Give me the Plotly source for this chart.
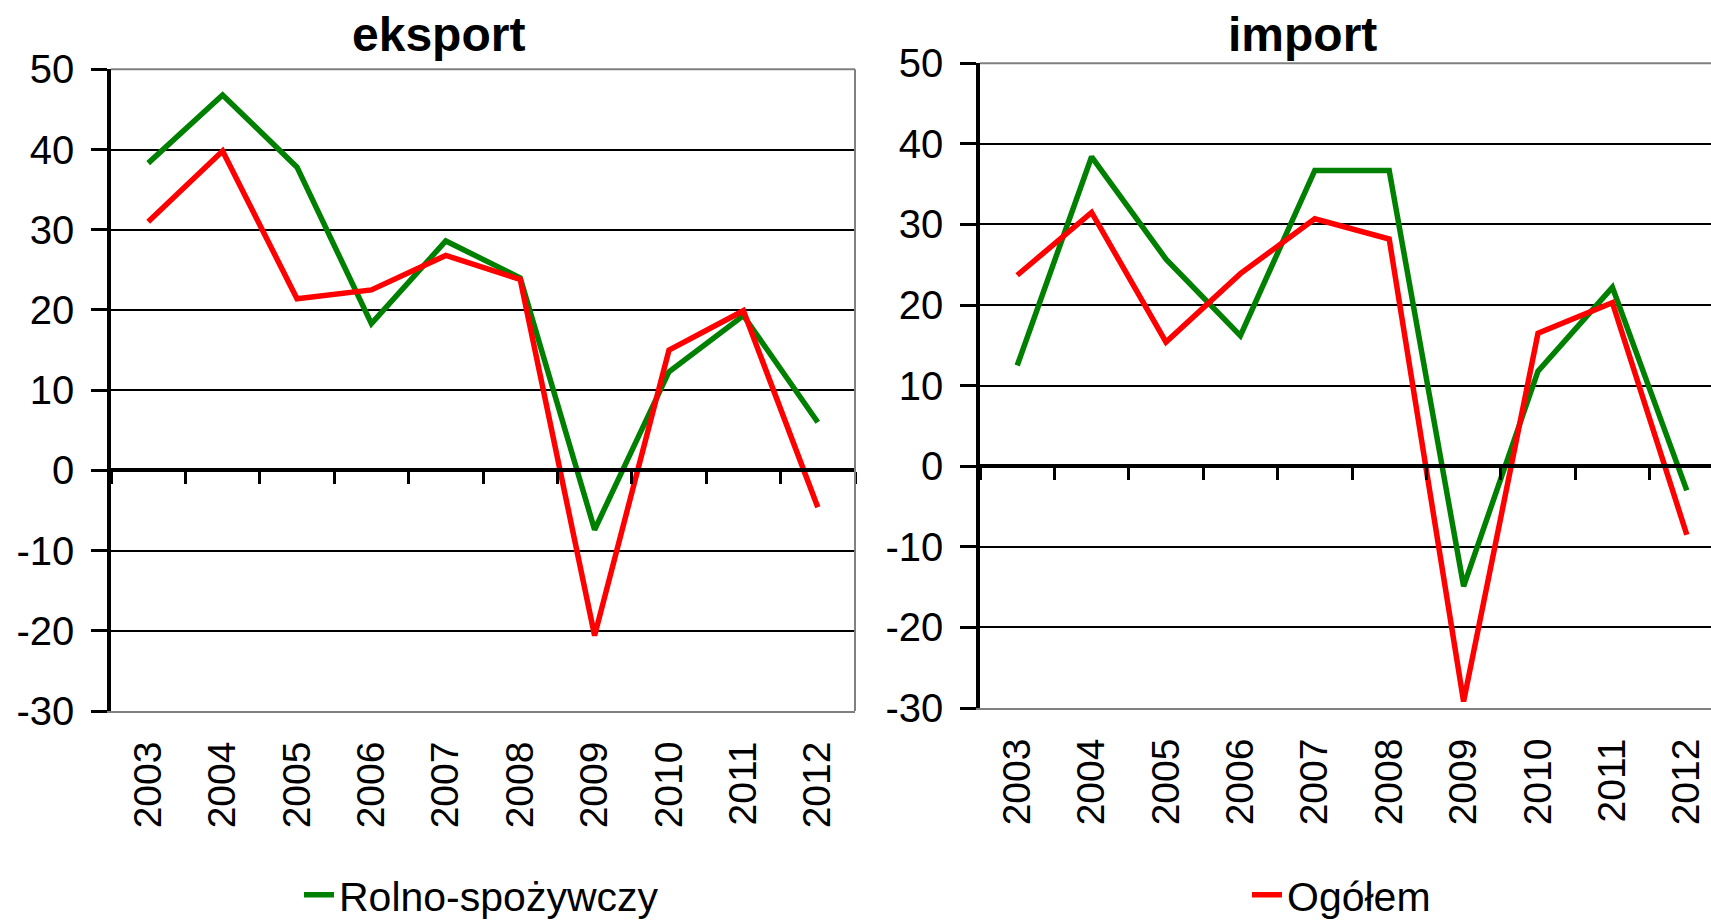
import plotly.graph_objects as go

# dane (dynamika r/r, %)
years = ['2003', '2004', '2005', '2006', '2007', '2008', '2009', '2010', '2011', '2012']
eksport_rolno = [38.3, 46.8, 37.8, 18.3, 28.6, 24.0, -7.4, 12.3, 19.3, 6.0]
eksport_ogolem = [31.0, 39.8, 21.4, 22.5, 26.8, 23.8, -20.6, 15.0, 19.9, -4.6]
import_rolno = [12.5, 38.4, 25.7, 16.2, 36.7, 36.7, -14.9, 11.8, 22.2, -3.0]
import_ogolem = [23.7, 31.5, 15.4, 23.9, 30.7, 28.2, -29.2, 16.5, 20.3, -8.5]
y_ticks = [-30, -20, -10, 0, 10, 20, 30, 40, 50]
y_labels = ['-30', '-20', '-10', '0', '10', '20', '30', '40', '50']

W, H = 1711, 922
FONT = 'Liberation Sans, Arial, sans-serif'
GREEN = 'rgb(0,128,0)'
RED = 'rgb(255,0,0)'
GRAY = 'rgb(128,128,128)'
BAND = 74.4  # szerokosc kategorii w px

xs = list(range(len(years)))
bounds = [i - 0.5 for i in range(len(years) + 1)]


def fx(p):
    return p / W


def fy(p):
    return 1 - p / H


panels = [
    dict(title='eksport', rolno=eksport_rolno, ogolem=eksport_ogolem,
         left=111, right=855, top=69.3, bottom=711, title_x=438, title_y=35,
         legend='legend', show='rolno', border_right=True),
    dict(title='import', rolno=import_rolno, ogolem=import_ogolem,
         left=980, right=1711, top=63.3, bottom=708, title_x=1302, title_y=34,
         legend='legend2', show='ogolem', border_right=False),
]

fig = go.Figure()
layout = dict(width=W, height=H, template='none',
              margin=dict(l=0, r=0, t=0, b=0, pad=0, autoexpand=False),
              paper_bgcolor='white', plot_bgcolor='white',
              font=dict(family=FONT, color='black'),
              shapes=[], annotations=[])

for i, p in enumerate(panels):
    n = i + 1
    xa = 'x' if n == 1 else f'x{n}'
    ya = 'y' if n == 1 else f'y{n}'
    xz = f'x{n + 2}'
    # zielona seria na osi dolnej (z etykietami lat), czerwona na osi przy zerze
    fig.add_trace(go.Scatter(x=xs, y=p['rolno'], mode='lines', name='Rolno-spożywczy',
                             line=dict(color=GREEN, width=5.5), xaxis=xa, yaxis=ya,
                             legend=p['legend'], showlegend=p['show'] == 'rolno'))
    fig.add_trace(go.Scatter(x=xs, y=p['ogolem'], mode='lines', name='Ogółem',
                             line=dict(color=RED, width=5.5), xaxis=xz, yaxis=ya,
                             legend=p['legend'], showlegend=p['show'] == 'ogolem'))

    xdom = [fx(p['left']), fx(p['right'])]
    ydom = [fy(p['bottom']), fy(p['top'])]
    xr = [-0.5, -0.5 + (p['right'] - p['left']) / BAND]
    zero_pos = ydom[0] + (0 - y_ticks[0]) / (y_ticks[-1] - y_ticks[0]) * (ydom[1] - ydom[0])

    xkey = 'xaxis' if n == 1 else f'xaxis{n}'
    ykey = 'yaxis' if n == 1 else f'yaxis{n}'
    layout[xkey] = dict(domain=xdom, anchor=ya, range=xr, tickmode='array', tickvals=xs,
                        ticktext=years, tickangle=-90, ticks='', showgrid=False,
                        zeroline=False, showline=True, linecolor=GRAY, linewidth=2,
                        tickfont=dict(size=39), ticklabelstandoff=13, automargin=False)
    layout[ykey] = dict(domain=ydom, anchor=xa, range=[y_ticks[0], y_ticks[-1]],
                        tickmode='array', tickvals=y_ticks, ticktext=y_labels,
                        showgrid=True, gridcolor='black',
                        gridwidth=1.5, zeroline=False, showline=True, linecolor='black',
                        linewidth=3.5, ticks='outside', ticklen=16, tickwidth=3,
                        tickcolor='black', tickfont=dict(size=40), ticklabelstandoff=9,
                        automargin=False)
    layout[f'xaxis{n + 2}'] = dict(overlaying=xa, anchor='free', position=zero_pos,
                                   domain=xdom, range=xr, tickmode='array', tickvals=bounds,
                                   showticklabels=False, showgrid=False, zeroline=False,
                                   showline=True, linecolor='black', linewidth=4,
                                   ticks='outside', ticklen=12, tickwidth=3, tickcolor='black',
                                   automargin=False)

    layout['shapes'].append(dict(type='line', xref=f'{xa} domain', yref=f'{ya} domain',
                                 x0=0, x1=1, y0=1, y1=1, line=dict(color=GRAY, width=2),
                                 layer='above'))
    if p['border_right']:
        layout['shapes'].append(dict(type='line', xref=f'{xa} domain', yref=f'{ya} domain',
                                     x0=1, x1=1, y0=0, y1=1, line=dict(color=GRAY, width=2),
                                     layer='above'))
    layout['annotations'].append(dict(text=f"<b>{p['title']}</b>", xref='paper', yref='paper',
                                      x=fx(p['title_x']), y=fy(p['title_y']),
                                      xanchor='center', yanchor='middle', showarrow=False,
                                      font=dict(size=48, family=FONT, color='black')))

layout['legend'] = dict(x=fx(299), y=fy(895), xanchor='left', yanchor='middle',
                        font=dict(size=41), bgcolor='rgba(0,0,0,0)')
layout['legend2'] = dict(x=fx(1247), y=fy(895), xanchor='left', yanchor='middle',
                         font=dict(size=41), bgcolor='rgba(0,0,0,0)')

fig.update_layout(**layout)
# bez domyslnego marginesu strony, zeby wykres zaczynal sie w rogu okna
fig.write_html('out.html', config={'displayModeBar': False},
               post_script="document.body.style.margin='0';document.body.style.overflow='hidden';")
